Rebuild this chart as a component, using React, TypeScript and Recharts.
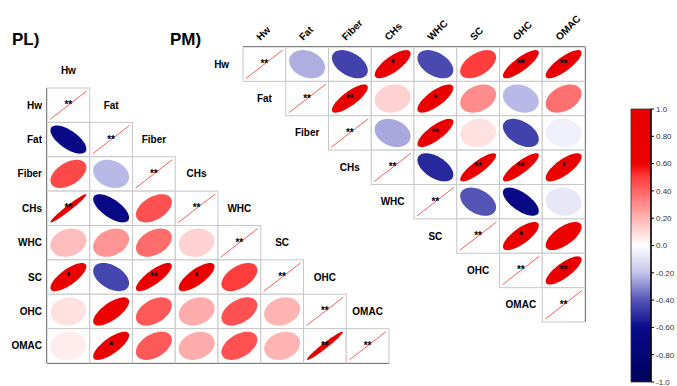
import { ScatterChart, Scatter, XAxis, YAxis, BarChart, Bar } from "recharts";

const FONT = "'Liberation Sans', Arial, sans-serif";

const VARS = ["Hw", "Fat", "Fiber", "CHs", "WHC", "SC", "OHC", "OMAC"];

// PL) lower triangle: each row against the variables before it
const plFat = [-0.66];
const plFiber = [0.47, -0.22];
const plCHs = [0.97, -0.66, 0.45];
const plWHC = [0.18, 0.28, 0.38, 0.12];
const plSC = [0.75, -0.44, 0.8, 0.75, 0.5];
const plOHC = [0.08, 0.7, 0.43, 0.22, 0.45, 0.2];
const plOMAC = [0.05, 0.75, 0.43, 0.22, 0.45, 0.2, 0.97];

// PM) upper triangle: each row against the variables after it
const pmHw = [-0.24, -0.45, 0.75, -0.43, 0.5, 0.82, 0.8];
const pmFat = [0.8, 0.12, 0.75, 0.3, -0.22, 0.37];
const pmFiber = [-0.25, 0.78, 0.08, -0.45, -0.05];
const pmCHs = [-0.52, 0.85, 0.85, 0.75];
const pmWHC = [-0.4, -0.66, -0.08];
const pmSC = [0.75, 0.65];
const pmOHC = [0.78];

// significance marks (row, column, stars)
const plStars = [
  ["CHs", "Hw", "**"],
  ["SC", "Hw", "*"],
  ["SC", "Fiber", "**"],
  ["SC", "CHs", "*"],
  ["OMAC", "Fat", "*"],
  ["OMAC", "OHC", "**"],
];
const pmStars = [
  ["Hw", "CHs", "*"],
  ["Hw", "OHC", "**"],
  ["Hw", "OMAC", "**"],
  ["Fat", "Fiber", "**"],
  ["Fat", "WHC", "*"],
  ["Fiber", "WHC", "**"],
  ["CHs", "SC", "**"],
  ["CHs", "OHC", "**"],
  ["CHs", "OMAC", "*"],
  ["SC", "OHC", "*"],
  ["OHC", "OMAC", "**"],
];

const BAR_TICKS = [1, 0.8, 0.6, 0.4, 0.2, 0, -0.2, -0.4, -0.6, -0.8, -1];
const BAR_LABELS = ["1.0", "0.80", "0.60", "0.40", "0.20", "0.0", "-0.20", "-0.40", "-0.60", "-0.80", "-1.0"];

const COLOR_STOPS: [number, string][] = [
  [-1, "#00005a"],
  [-0.6, "#0b0b8c"],
  [-0.4, "#5454b6"],
  [-0.2, "#c4c4ec"],
  [0, "#ffffff"],
  [0.2, "#ffb4b4"],
  [0.4, "#ff6464"],
  [0.5, "#ff3d3d"],
  [0.6, "#ee0000"],
  [1, "#e60000"],
];

const PLOT_W = 342;
const PLOT_H = 275;
const CELL_W = PLOT_W / 8;
const CELL_H = PLOT_H / 8;
const CENTERS = [0.5, 1.5, 2.5, 3.5, 4.5, 5.5, 6.5, 7.5];

function hex(c: string) {
  return [1, 3, 5].map((i) => parseInt(c.slice(i, i + 2), 16));
}

function corrColor(r: number) {
  for (let i = 1; i < COLOR_STOPS.length; i++) {
    const [r0, c0] = COLOR_STOPS[i - 1];
    const [r1, c1] = COLOR_STOPS[i];
    if (r <= r1) {
      const f = (r - r0) / (r1 - r0);
      const a = hex(c0);
      const b = hex(c1);
      const m = a.map((v, k) => Math.round(v + (b[k] - v) * f));
      return `rgb(${m[0]},${m[1]},${m[2]})`;
    }
  }
  return COLOR_STOPS[COLOR_STOPS.length - 1][1];
}

function ellipsePath(cx: number, cy: number, r: number) {
  const d = Math.acos(r);
  const a = CELL_W * 0.42;
  const b = CELL_H * 0.41;
  let p = "";
  for (let k = 0; k <= 72; k++) {
    const t = (k / 72) * 2 * Math.PI;
    const px = cx + a * Math.cos(t + d / 2);
    const py = cy - b * Math.cos(t - d / 2);
    p += (k ? "L" : "M") + px.toFixed(2) + "," + py.toFixed(2);
  }
  return p + "Z";
}

type Cell = { x: number; y: number; r: number; stars: string; diag: boolean; row: number };

function starOf(list: string[][], a: string, b: string) {
  const hit = list.find((s) => s[0] === a && s[1] === b);
  return hit ? hit[2] : "";
}

function buildLower(rows: number[][], stars: string[][]): Cell[] {
  const out: Cell[] = [];
  VARS.forEach((v, i) => {
    const vals = i === 0 ? [] : rows[i - 1];
    vals.forEach((r, j) =>
      out.push({ x: j + 0.5, y: i + 0.5, r, stars: starOf(stars, v, VARS[j]), diag: false, row: i })
    );
    out.push({ x: i + 0.5, y: i + 0.5, r: 1, stars: "**", diag: true, row: i });
  });
  return out;
}

function buildUpper(rows: number[][], stars: string[][]): Cell[] {
  const out: Cell[] = [];
  VARS.forEach((v, i) => {
    out.push({ x: i + 0.5, y: i + 0.5, r: 1, stars: "**", diag: true, row: i });
    const vals = rows[i] || [];
    vals.forEach((r, k) => {
      const j = i + 1 + k;
      out.push({ x: j + 0.5, y: i + 0.5, r, stars: starOf(stars, v, VARS[j]), diag: false, row: i });
    });
  });
  return out;
}

const plData = buildLower([plFat, plFiber, plCHs, plWHC, plSC, plOHC, plOMAC], plStars);
const pmData = buildUpper([pmHw, pmFat, pmFiber, pmCHs, pmWHC, pmSC, pmOHC], pmStars);

const labelStyle = { fontSize: 10, fontWeight: "bold" as const, fontFamily: FONT, fill: "#000" };

function Label({ x, y, text }: { x: number; y: number; text: string }) {
  return (
    <text x={x} y={y} textAnchor="middle" dominantBaseline="central" {...labelStyle}>
      {text}
    </text>
  );
}

function CellShape(props: any) {
  const { cx, cy, payload, panel } = props;
  const c: Cell = payload;
  const items = [
    <rect
      key="b"
      x={cx - CELL_W / 2}
      y={cy - CELL_H / 2}
      width={CELL_W}
      height={CELL_H}
      fill="#fff"
      stroke="#c8c8c8"
      strokeWidth={1}
    />,
  ];
  if (c.diag) {
    items.push(
      <line
        key="l"
        x1={cx - CELL_W / 2 + 3}
        y1={cy + CELL_H / 2 - 3}
        x2={cx + CELL_W / 2 - 3}
        y2={cy - CELL_H / 2 + 3}
        stroke="#ff4a4a"
        strokeWidth={0.9}
      />
    );
    if (panel === "PL") {
      if (c.row + 1 < VARS.length) items.push(<Label key="n" x={cx + CELL_W} y={cy} text={VARS[c.row + 1]} />);
      if (c.row === 0) items.push(<Label key="h" x={cx} y={cy - CELL_H} text={VARS[0]} />);
    } else {
      items.push(<Label key="n" x={cx - CELL_W} y={cy} text={VARS[c.row]} />);
    }
  } else {
    items.push(<path key="e" d={ellipsePath(cx, cy, c.r)} fill={corrColor(c.r)} stroke="none" />);
  }
  if (c.stars) {
    items.push(
      <text key="s" x={cx} y={cy + 3} textAnchor="middle" fontSize={10} fontWeight="bold" fontFamily={FONT} fill="#000">
        {c.stars}
      </text>
    );
  }
  return <g>{items}</g>;
}

function TopTick(props: any) {
  const { x, y, payload } = props;
  return (
    <text transform={`translate(${x - 4},${y + 2}) rotate(-45)`} textAnchor="start" {...labelStyle}>
      {VARS[Math.floor(payload.value)]}
    </text>
  );
}

const axisLine = { stroke: "#333", strokeWidth: 2 };

export default function App() {
  return (
    <div
      style={{
        position: "absolute",
        left: 0,
        top: 0,
        width: 677,
        height: 386,
        background: "#fff",
        fontFamily: FONT,
      }}
    >
      <div style={{ position: "absolute", left: 12, top: 31, fontSize: 17, fontWeight: "bold", lineHeight: "17px" }}>
        PL)
      </div>
      <div style={{ position: "absolute", left: 170, top: 31, fontSize: 17, fontWeight: "bold", lineHeight: "17px" }}>
        PM)
      </div>

      <div style={{ position: "absolute", left: 0, top: 0 }}>
        <ScatterChart width={677} height={386} margin={{ top: 88, left: 0, right: 288, bottom: 22 }}>
          <XAxis type="number" dataKey="x" domain={[0, 8]} height={1} tick={false} tickLine={false} axisLine={axisLine} />
          <YAxis
            type="number"
            dataKey="y"
            domain={[0, 8]}
            reversed
            width={47}
            ticks={CENTERS}
            interval={0}
            tickSize={3}
            tickMargin={2}
            tickLine={false}
            axisLine={axisLine}
            tick={labelStyle}
            tickFormatter={(v: number) => VARS[Math.floor(v)]}
          />
          <Scatter
            data={plData}
            isAnimationActive={false}
            shape={(p: any) => <CellShape {...p} panel="PL" />}
          />
        </ScatterChart>
      </div>

      <div style={{ position: "absolute", left: 0, top: 0 }}>
        <ScatterChart width={677} height={386} margin={{ top: 27, left: 243, right: 91, bottom: 64 }}>
          <XAxis
            type="number"
            dataKey="x"
            orientation="top"
            domain={[0, 8]}
            height={20}
            ticks={CENTERS}
            interval={0}
            tickLine={false}
            axisLine={axisLine}
            tick={<TopTick />}
          />
          <YAxis
            type="number"
            dataKey="y"
            orientation="right"
            domain={[0, 8]}
            reversed
            width={1}
            tick={false}
            tickLine={false}
            axisLine={axisLine}
          />
          <Scatter
            data={pmData}
            isAnimationActive={false}
            shape={(p: any) => <CellShape {...p} panel="PM" />}
          />
        </ScatterChart>
      </div>

      <div style={{ position: "absolute", left: 0, top: 0 }}>
        <BarChart
          width={677}
          height={386}
          data={[{ k: "r", v: [-1, 1] }]}
          margin={{ top: 109, left: 631, right: 0, bottom: 4 }}
          barCategoryGap={0}
        >
          <defs>
            <linearGradient id="corrGrad" x1="0" y1="0" x2="0" y2="1">
              {COLOR_STOPS.slice()
                .reverse()
                .map(([r, c]) => (
                  <stop key={r} offset={`${((1 - r) / 2) * 100}%`} stopColor={c} />
                ))}
            </linearGradient>
          </defs>
          <XAxis dataKey="k" hide />
          <YAxis
            orientation="right"
            domain={[-1, 1]}
            ticks={BAR_TICKS}
            interval={0}
            width={26}
            tickSize={3}
            tickMargin={2}
            axisLine={{ stroke: "#000", strokeWidth: 1.5 }}
            tickLine={{ stroke: "#000" }}
            tick={{ fontSize: 8, fill: "#333", fontFamily: FONT, textAnchor: "start" }}
            tickFormatter={(v: number) => BAR_LABELS[BAR_TICKS.indexOf(v)]}
          />
          <Bar dataKey="v" fill="url(#corrGrad)" stroke="#333" strokeWidth={0.8} isAnimationActive={false} />
        </BarChart>
      </div>
    </div>
  );
}
